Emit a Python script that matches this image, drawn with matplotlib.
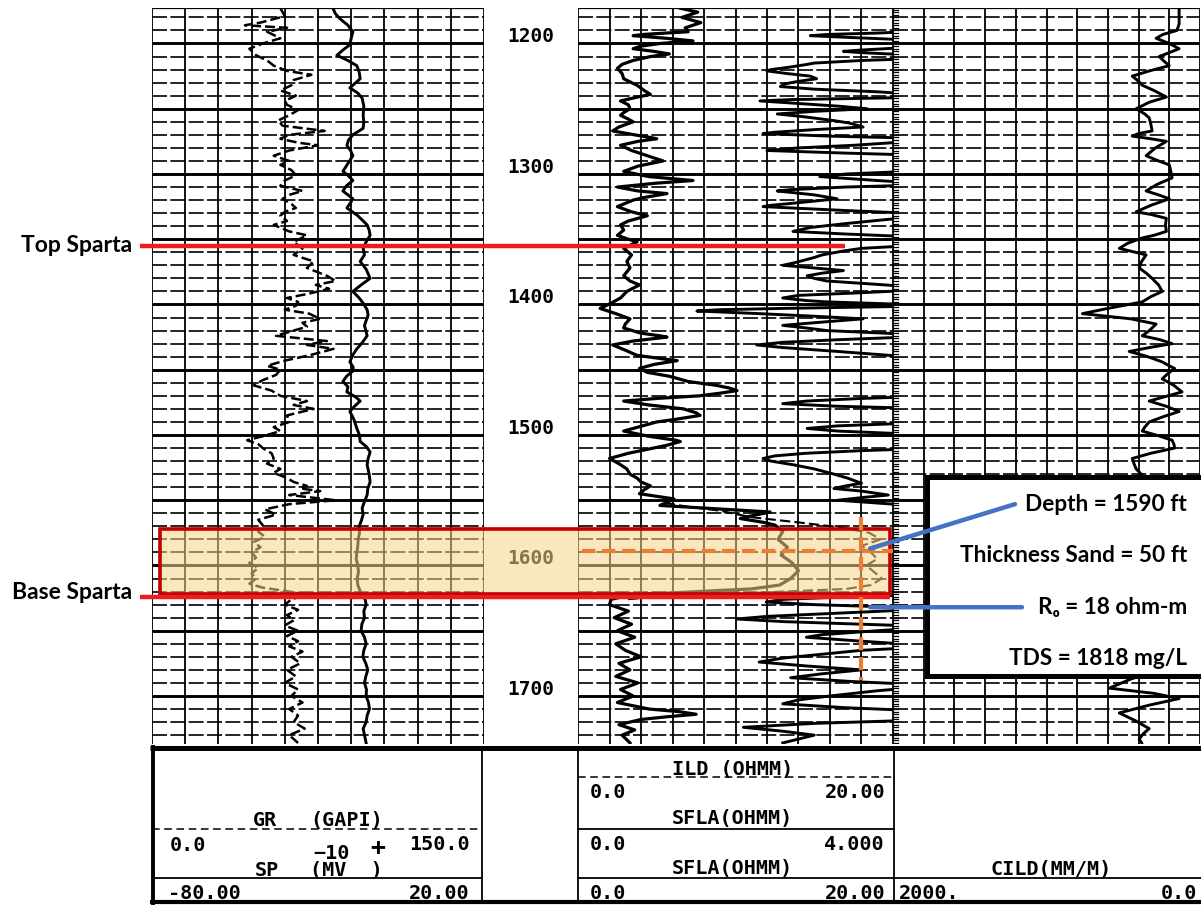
import matplotlib
matplotlib.use("Agg")
import matplotlib.pyplot as plt
from matplotlib.patches import Rectangle, ConnectionPatch

# ---------------- log curves (depth in ft) ----------------
sp_log = [(1173, -25.5), (1177, -24.8), (1181, -23.4), (1186, -21.0), (1191, -19.5), (1196, -20.0),
          (1201, -20.4), (1205, -22.5), (1209, -24.3), (1213, -21.0), (1217, -18.3), (1222, -17.6),
          (1227, -17.3), (1230, -18.6), (1234, -20.4), (1238, -18.0), (1242, -16.7), (1248, -16.2),
          (1255, -16.4), (1260, -16.2), (1265, -16.4), (1270, -19.5), (1274, -20.8), (1278, -21.3),
          (1282, -20.2), (1286, -19.5), (1292, -21.0), (1298, -22.5), (1301, -21.0), (1305, -19.5),
          (1309, -21.4), (1313, -22.5), (1316, -21.0), (1319, -19.5), (1322, -20.2), (1326, -21.3),
          (1332, -18.0), (1339, -15.2), (1343, -14.6), (1347, -14.3), (1352, -15.5), (1357, -16.4),
          (1362, -16.0), (1367, -17.3), (1373, -15.5), (1380, -14.3), (1385, -17.0), (1390, -19.5),
          (1395, -17.6), (1399, -16.4), (1404, -15.2), (1408, -14.9), (1416, -16.0), (1424, -15.2),
          (1429, -16.6), (1434, -18.3), (1439, -19.6), (1444, -20.4), (1448, -19.4), (1451, -19.5),
          (1455, -21.4), (1459, -22.5), (1463, -21.0), (1467, -21.3), (1471, -18.6), (1474, -17.3),
          (1478, -19.0), (1482, -20.4), (1488, -19.2), (1495, -18.3), (1500, -17.5), (1505, -17.3),
          (1509, -15.4), (1513, -14.3), (1518, -14.9), (1523, -15.2), (1530, -14.6), (1536, -14.3),
          (1541, -15.0), (1546, -15.2), (1551, -16.0), (1556, -16.7), (1561, -16.4), (1566, -17.0),
          (1570, -17.6), (1575, -17.5), (1580, -17.9), (1585, -18.0), (1590, -18.3), (1595, -18.5),
          (1600, -18.0), (1605, -17.8), (1610, -18.2), (1615, -18.0), (1619, -17.4), (1622, -16.7),
          (1626, -15.8), (1630, -15.5), (1635, -16.2), (1640, -16.0), (1645, -16.8), (1650, -17.0),
          (1655, -16.0), (1660, -15.5), (1665, -16.2), (1670, -16.5), (1675, -15.6), (1680, -15.0),
          (1685, -15.6), (1690, -16.0), (1695, -15.4), (1700, -15.5), (1705, -14.8), (1710, -14.5),
          (1715, -15.2), (1720, -15.5), (1725, -16.4), (1730, -16.0), (1736, -15.5)]

gr_log = [(1173, 58), (1179, 60), (1184, 49), (1186, 42), (1188, 61), (1191, 52), (1196, 58),
          (1200, 50), (1204, 44), (1209, 47), (1213, 52), (1217, 55), (1221, 61), (1224, 72),
          (1228, 64), (1232, 63), (1236, 58), (1240, 65), (1244, 60), (1247, 61), (1251, 66),
          (1255, 62), (1259, 57), (1263, 59), (1267, 78), (1270, 62), (1273, 58), (1276, 66),
          (1278, 75), (1282, 62), (1286, 55), (1290, 62), (1293, 58), (1297, 63), (1301, 65),
          (1305, 60), (1309, 58), (1313, 68), (1316, 62), (1319, 59), (1323, 63), (1326, 65),
          (1329, 60), (1332, 58), (1336, 61), (1339, 55), (1344, 62), (1347, 70), (1352, 64),
          (1357, 68), (1362, 64), (1367, 73), (1372, 70), (1378, 79), (1382, 83), (1385, 74),
          (1388, 80), (1392, 70), (1395, 61), (1398, 66), (1401, 65), (1404, 60), (1407, 71),
          (1411, 76), (1414, 68), (1417, 70), (1421, 62), (1424, 56), (1428, 79), (1431, 70),
          (1434, 82), (1439, 71), (1443, 60), (1447, 52), (1450, 58), (1454, 56), (1458, 50),
          (1462, 46), (1466, 54), (1470, 58), (1474, 70), (1477, 64), (1480, 73), (1485, 61),
          (1490, 62), (1494, 55), (1497, 58), (1501, 50), (1504, 43), (1507, 48), (1510, 50),
          (1514, 54), (1518, 55), (1522, 52), (1526, 58), (1529, 55), (1533, 61), (1536, 64),
          (1539, 70), (1541, 67), (1543, 76), (1546, 62), (1550, 83), (1553, 62), (1557, 51),
          (1561, 56), (1565, 48), (1569, 50), (1574, 48), (1578, 51), (1582, 46), (1586, 49),
          (1590, 45), (1594, 47), (1598, 44), (1602, 48), (1606, 45), (1610, 47), (1614, 44),
          (1617, 50), (1620, 62), (1622, 70), (1626, 63), (1630, 60), (1634, 66), (1638, 61),
          (1642, 64), (1646, 60), (1650, 66), (1654, 61), (1658, 66), (1662, 62), (1666, 68),
          (1670, 63), (1675, 67), (1680, 61), (1685, 65), (1690, 60), (1695, 66), (1700, 63),
          (1705, 68), (1710, 62), (1715, 66), (1720, 64), (1725, 69), (1730, 62), (1736, 66)]

# SFLA on the 0-20 ohm-m scale
sfla_log = [(1173, 6.5), (1176, 7.6), (1180, 6.6), (1184, 7.8), (1188, 6.8), (1191, 7.0),
            (1193, 4.2), (1194, 3.5), (1196, 5.6), (1198, 7.3), (1200, 5.2), (1202, 4.0),
            (1204, 3.5), (1206, 4.8), (1208, 5.8), (1210, 4.6), (1213, 3.5), (1216, 2.8),
            (1219, 2.5), (1223, 2.8), (1227, 2.9), (1230, 3.4), (1232, 3.75), (1236, 4.2),
            (1239, 4.6), (1241, 3.8), (1244, 2.7), (1247, 3.2), (1250, 3.3), (1253, 2.9),
            (1255, 2.7), (1258, 3.2), (1260, 3.5), (1264, 2.6), (1267, 2.2), (1270, 3.6),
            (1272, 4.6), (1273, 5.0), (1275, 3.8), (1278, 2.7), (1282, 3.4), (1286, 4.4),
            (1290, 5.4), (1294, 3.8), (1298, 2.9), (1302, 4.5), (1304, 6.4), (1305, 7.3),
            (1307, 5.0), (1310, 2.5), (1313, 3.8), (1315, 5.65), (1318, 4.2), (1320, 3.5),
            (1325, 2.5), (1329, 3.4), (1332, 4.4), (1336, 3.2), (1339, 2.7), (1343, 2.9),
            (1347, 2.5), (1350, 3.2), (1352, 3.75), (1357, 2.9), (1362, 3.4), (1367, 3.1),
            (1372, 3.3), (1378, 2.9), (1382, 3.3), (1385, 3.9), (1390, 3.1), (1395, 2.7),
            (1399, 2.1), (1403, 1.4), (1407, 2.4), (1411, 3.3), (1415, 3.0), (1418, 2.9),
            (1422, 4.0), (1424, 5.2), (1425, 5.65), (1428, 3.5), (1431, 2.2), (1435, 3.0),
            (1439, 3.75), (1442, 5.6), (1443, 6.3), (1446, 4.8), (1449, 3.9), (1452, 4.4),
            (1455, 5.8), (1459, 7.0), (1462, 8.8), (1464, 9.6), (1466, 10.1), (1468, 9.0),
            (1470, 7.7), (1472, 5.0), (1474, 2.9), (1477, 4.5), (1480, 6.7), (1483, 7.5),
            (1485, 7.75), (1488, 6.2), (1490, 5.0), (1494, 3.8), (1497, 2.9), (1501, 4.5),
            (1504, 6.2), (1505, 6.5), (1508, 5.6), (1510, 4.8), (1514, 3.2), (1518, 2.0),
            (1522, 2.6), (1526, 3.1), (1530, 3.3), (1533, 3.75), (1536, 4.0), (1539, 4.6),
            (1542, 4.2), (1545, 3.9), (1549, 6.1), (1552, 5.6), (1554, 5.2), (1556, 8.0),
            (1559, 12.2), (1562, 11.0), (1564, 10.3), (1567, 11.8), (1569, 12.5), (1574, 13.0),
            (1580, 12.7), (1586, 13.3), (1592, 12.9), (1598, 13.6), (1604, 14.0), (1610, 13.5),
            (1615, 12.8), (1618, 11.0), (1619, 9.2), (1621, 6.0), (1622, 4.0), (1624, 2.8),
            (1626, 2.1), (1630, 2.0), (1635, 3.2), (1640, 2.3), (1645, 3.4), (1650, 2.5),
            (1655, 3.6), (1660, 2.4), (1665, 3.0), (1670, 4.0), (1675, 2.6), (1680, 3.3),
            (1685, 2.4), (1690, 3.8), (1695, 2.7), (1700, 3.5), (1705, 2.5), (1710, 4.5),
            (1712, 6.4), (1714, 7.5), (1716, 5.6), (1718, 4.0), (1722, 2.6), (1726, 3.6),
            (1730, 2.8), (1736, 3.3)]

# SFLA on the 0-4 ohm-m scale (values above 4 run off the track)
sfla4_log = [(1173, 4.6), (1190, 4.6), (1192, 3.8), (1193, 3.2), (1194, 2.95), (1195, 3.3),
             (1197, 4.1), (1200, 4.6), (1203, 4.2), (1205, 3.6), (1206, 3.37), (1207, 3.6),
             (1209, 4.3), (1211, 4.6), (1213, 3.6), (1215, 3.0), (1216, 2.91), (1218, 2.7),
             (1220, 2.45), (1221, 2.40), (1223, 2.65), (1225, 2.95), (1227, 3.03), (1229, 2.8),
             (1231, 2.62), (1233, 2.57), (1235, 3.0), (1237, 3.8), (1239, 4.3), (1241, 4.6),
             (1243, 2.7), (1244, 2.31), (1246, 2.8), (1248, 3.3), (1250, 3.67), (1252, 3.0),
             (1254, 2.53), (1256, 2.85), (1259, 3.24), (1261, 3.45), (1264, 3.62), (1266, 3.0),
             (1268, 2.5), (1269, 2.35), (1271, 3.2), (1273, 4.6), (1276, 4.0), (1278, 3.5),
             (1280, 2.8), (1282, 2.40), (1284, 3.4), (1286, 4.6), (1297, 4.6), (1300, 3.4),
             (1302, 3.07), (1305, 3.8), (1308, 4.6), (1310, 3.4), (1312, 2.7), (1313, 2.53),
             (1316, 3.0), (1319, 3.29), (1322, 2.8), (1324, 2.45), (1325, 2.35), (1328, 3.4),
             (1331, 4.6), (1335, 3.9), (1338, 3.4), (1341, 2.95), (1344, 2.73), (1346, 3.4),
             (1349, 4.6), (1355, 4.2), (1357, 3.6), (1359, 3.37), (1362, 3.1), (1364, 3.0),
             (1368, 2.75), (1370, 2.6), (1372, 3.0), (1374, 3.37), (1376, 3.1), (1378, 2.91),
             (1380, 3.0), (1382, 3.16), (1385, 3.9), (1388, 4.6), (1391, 3.6), (1393, 2.8),
             (1395, 2.6), (1397, 2.9), (1398, 3.16), (1400, 4.2), (1401, 4.6), (1403, 2.6),
             (1404, 1.8), (1405, 1.51), (1407, 2.3), (1409, 3.0), (1411, 3.62), (1413, 3.2),
             (1415, 2.8), (1416, 2.6), (1418, 2.9), (1420, 3.16), (1422, 3.9), (1424, 4.6),
             (1427, 3.3), (1429, 2.6), (1431, 2.27), (1433, 2.6), (1436, 3.3), (1439, 3.96),
             (1442, 4.6), (1470, 4.6), (1472, 3.6), (1474, 2.9), (1476, 2.6), (1478, 3.3),
             (1480, 4.6), (1491, 4.2), (1493, 3.3), (1495, 2.91), (1497, 3.3), (1499, 4.1),
             (1501, 4.6), (1510, 4.6), (1512, 3.6), (1514, 2.9), (1516, 2.5), (1518, 2.35),
             (1520, 2.45), (1523, 2.75), (1526, 3.0), (1530, 3.25), (1533, 3.42), (1537, 3.6),
             (1539, 3.4), (1541, 3.25), (1543, 3.6), (1546, 3.94), (1548, 3.6), (1550, 3.3),
             (1553, 4.0), (1555, 4.6), (1622, 4.6), (1624, 3.4), (1626, 2.6), (1628, 2.39),
             (1630, 3.0), (1633, 4.6), (1636, 3.5), (1639, 2.4), (1641, 2.02), (1643, 2.6),
             (1645, 3.6), (1647, 4.6), (1650, 3.8), (1653, 3.1), (1655, 2.9), (1658, 3.6),
             (1662, 4.6), (1665, 3.6), (1668, 3.1), (1671, 2.6), (1674, 2.3), (1677, 2.9),
             (1680, 3.6), (1683, 3.1), (1686, 2.7), (1689, 3.5), (1692, 4.6), (1696, 3.8),
             (1700, 3.2), (1703, 2.8), (1706, 2.6), (1709, 3.4), (1712, 4.6), (1718, 4.6),
             (1721, 3.0), (1724, 2.1), (1727, 2.6), (1730, 3.0), (1733, 2.8), (1736, 2.6)]

ild_log = [(1552, 5.5), (1555, 7.0), (1558, 9.0), (1563, 11.0), (1567, 14.0), (1571, 16.8),
           (1575, 18.5), (1580, 19.2), (1585, 18.0), (1590, 18.6), (1595, 19.0), (1600, 18.3),
           (1605, 18.8), (1610, 19.3), (1615, 18.6), (1618, 17.0), (1619, 15.0), (1621, 11.0),
           (1622, 8.0), (1624, 5.0), (1626, 3.0)]

cild_log = [(1173, 136), (1185, 136), (1190, 150), (1193, 240), (1196, 286), (1200, 200),
            (1204, 136), (1207, 200), (1210, 266), (1214, 230), (1217, 200), (1221, 330),
            (1225, 441), (1229, 400), (1232, 376), (1236, 300), (1241, 219), (1245, 330),
            (1250, 416), (1254, 360), (1257, 331), (1262, 320), (1267, 312), (1269, 400),
            (1271, 441), (1273, 320), (1275, 219), (1280, 290), (1286, 351), (1290, 270),
            (1293, 200), (1298, 190), (1303, 182), (1308, 280), (1313, 351), (1316, 270),
            (1319, 200), (1324, 320), (1329, 416), (1331, 320), (1334, 219), (1339, 225),
            (1344, 219), (1347, 300), (1349, 376), (1353, 470), (1357, 526), (1360, 420),
            (1362, 351), (1367, 380), (1372, 396), (1376, 350), (1380, 312), (1385, 270),
            (1390, 246), (1394, 320), (1398, 376), (1403, 600), (1407, 766), (1411, 450),
            (1415, 286), (1420, 330), (1424, 376), (1427, 260), (1430, 182), (1433, 330),
            (1436, 461), (1440, 340), (1444, 246), (1447, 200), (1449, 165), (1453, 210),
            (1457, 246), (1462, 170), (1467, 117), (1471, 240), (1474, 331), (1478, 220),
            (1482, 136), (1486, 240), (1490, 331), (1494, 360), (1497, 376), (1501, 260),
            (1504, 182), (1507, 170), (1510, 165), (1514, 320), (1518, 441), (1522, 430),
            (1526, 416), (1540, 300), (1560, 250), (1575, 60), (1590, 55), (1610, 58),
            (1625, 300), (1640, 350), (1660, 300), (1675, 250), (1680, 266), (1687, 450),
            (1694, 591), (1698, 300), (1702, 136), (1707, 330), (1713, 526), (1719, 420),
            (1725, 331), (1729, 370), (1733, 396), (1736, 380)]

depth_labels = [1200, 1300, 1400, 1500, 1600, 1700]

top_sparta = 1355
base_sparta = 1624
sand_top, sand_base = 1572, 1622
pick_depth = 1589
ro_ohmm = 18

info_lines = ["Depth = 1590 ft", "Thickness Sand = 50 ft", "R\u2092 = 18 ohm-m", "TDS = 1818 mg/L"]

# ---------------- layout helpers ----------------
W, H = 1201, 905
D_TOP, D_BOT = 1172.8, 1736.8
LOG_Y0, LOG_Y1 = 8, 744


def rect(x0, x1, y0, y1):
    return [x0 / W, 1 - y1 / H, (x1 - x0) / W, (y1 - y0) / H]


fig = plt.figure(figsize=(W / 100, H / 100), dpi=100)
fig.patch.set_facecolor("white")


def log_axes(x0, x1, xlim):
    ax = fig.add_axes(rect(x0, x1, LOG_Y0, LOG_Y1))
    ax.set_xlim(*xlim)
    ax.set_ylim(D_BOT, D_TOP)
    ax.set_axis_off()
    return ax


def draw_grid(ax, xlo, xhi):
    for i in range(11):
        ax.axvline(xlo + (xhi - xlo) * i / 10, color="black", lw=1.3, zorder=1)
    for d in range(1180, 1737, 10):
        if d % 50 == 0:
            ax.axhline(d, color="black", lw=2.1, zorder=1)
        else:
            ax.axhline(d, color="black", lw=1.2, ls=(0, (9, 2)), zorder=1)
    ax.axhline(D_TOP, color="black", lw=1.6, zorder=1)


def unzip(pairs):
    return [p[0] for p in pairs], [p[1] for p in pairs]


# Track 1: GR / SP
ax1 = log_axes(152, 484, (0, 150))
draw_grid(ax1, 0, 150)
gd, gv = unzip(gr_log)
ax1.plot(gv, gd, color="black", lw=1.8, ls=(0, (4, 1.6)), zorder=3)
ax1s = ax1.twiny()
ax1s.set_xlim(-80, 20)
ax1s.set_ylim(D_BOT, D_TOP)
ax1s.set_axis_off()
sd, sv = unzip(sp_log)
ax1s.plot(sv, sd, color="black", lw=2.1, zorder=3, solid_joinstyle="round")

# Depth column
axd = log_axes(484, 578, (0, 1))
for d in depth_labels:
    axd.text(0.5, d - 5, str(d), ha="center", va="center", fontsize=14,
             family="DejaVu Sans Mono", fontweight="bold", color="black")

# Track 2: resistivity
ax2 = log_axes(578, 893, (0, 20))
draw_grid(ax2, 0, 20)
fd, fv = unzip(sfla_log)
ax2.plot(fv, fd, color="black", lw=2.3, zorder=3, solid_joinstyle="round")
idp, iv = unzip(ild_log)
ax2.plot(iv, idp, color="black", lw=1.5, ls=(0, (5, 2)), zorder=3)
ax2s = ax2.twiny()
ax2s.set_xlim(0, 4)
ax2s.set_ylim(D_BOT, D_TOP)
ax2s.set_axis_off()
f4d, f4v = unzip(sfla4_log)
ax2s.plot(f4v, f4d, color="black", lw=2.1, zorder=3, solid_joinstyle="round")

# Track 3: conductivity
ax3 = log_axes(893, 1200, (2000, 0))
draw_grid(ax3, 2000, 0)
cd, cv = unzip(cild_log)
ax3.plot(cv, cd, color="black", lw=2.1, zorder=3, solid_joinstyle="round")
for d in range(1174, 1737, 2):
    ax3.plot([2000, 1965], [d, d], color="black", lw=0.9, zorder=2)

# ---------------- annotation layer ----------------
ov = fig.add_axes(rect(0, W, LOG_Y0, LOG_Y1), zorder=5)
ov.set_xlim(0, W)
ov.set_ylim(D_BOT, D_TOP)
ov.set_axis_off()

# sand interval
ov.add_patch(Rectangle((160, sand_top), 730, sand_base - sand_top,
                       facecolor="#f7d48a", alpha=0.55, edgecolor="none", zorder=2))
ov.add_patch(Rectangle((160, sand_top), 730, sand_base - sand_top,
                       facecolor="none", edgecolor="#c00000", lw=2.6, zorder=3))

# formation tops
ov.plot([140, 845], [top_sparta, top_sparta], color="#ee1c1c", lw=3.2, zorder=4,
        solid_capstyle="butt")
ov.plot([140, 890], [base_sparta, base_sparta], color="#ee1c1c", lw=3.2, zorder=4,
        solid_capstyle="butt")
label_font = dict(family=["Lato", "DejaVu Sans"], fontweight="bold", fontsize=16.5, color="black")
ov.text(132, top_sparta, "Top Sparta", ha="right", va="center", **label_font)
ov.text(132, base_sparta - 3.5, "Base Sparta", ha="right", va="center", **label_font)

# picks on the resistivity track
orange = "#ed7d31"
ov.plot([0.25, 20], [pick_depth, pick_depth], transform=ax2.transData, color=orange,
        lw=3.0, ls=(0, (3.2, 1.6)), zorder=5, clip_on=False)
ov.plot([ro_ohmm, ro_ohmm], [1563, 1688], transform=ax2.transData, color=orange,
        lw=3.0, ls=(0, (3.2, 1.6)), zorder=5, clip_on=False)

# info box
ov.add_patch(Rectangle((927, 1532.5), 300, 152.5, facecolor="white", edgecolor="black",
                       lw=3.6, zorder=6, clip_on=True))
info_depths = [1553.5, 1592.5, 1632.5, 1671]
for txt, d in zip(info_lines, info_depths):
    ov.text(1187, d, txt, ha="right", va="center", zorder=7,
            family=["Lato", "DejaVu Sans"], fontweight="bold", fontsize=16.3, color="black")

blue = "#4472c4"
for (vx, vd), (bx, bd) in [((18.55, 1587), (1015, 1553)), ((18.55, 1632), (1022, 1632))]:
    con = ConnectionPatch(xyA=(vx, vd), coordsA=ax2.transData, xyB=(bx, bd),
                          coordsB=ov.transData, color=blue, lw=3.2, zorder=7)
    ov.add_artist(con)

# ---------------- header ----------------
hd = fig.add_axes(rect(0, W, 745, 905), zorder=6)
hd.set_xlim(0, W)
hd.set_ylim(905, 745)
hd.set_axis_off()

hd.plot([150, W], [747.5, 747.5], color="black", lw=3.6, solid_capstyle="butt")
hd.plot([150, W], [902, 902], color="black", lw=3.0, solid_capstyle="butt")
hd.plot([153, 153], [746, 903], color="black", lw=2.8)
for x in (482, 578, 894):
    hd.plot([x, x], [748, 902], color="black", lw=1.3)
hd.plot([152, 482], [829, 829], color="black", lw=1.1, ls=(0, (5, 3)))
hd.plot([152, 482], [878, 878], color="black", lw=1.3)
hd.plot([578, 894], [777, 777], color="black", lw=1.1, ls=(0, (5, 3)))
hd.plot([578, 894], [829, 829], color="black", lw=1.3)
hd.plot([578, W], [878, 878], color="black", lw=1.3)

mono = dict(family="DejaVu Sans Mono", fontweight="bold", fontsize=14.5, color="black")
hd.text(253, 820, "GR", ha="left", va="center", **mono)
hd.text(310, 820, "(GAPI)", ha="left", va="center", **mono)
hd.text(170, 845, "0.0", ha="left", va="center", **mono)
hd.text(470, 844, "150.0", ha="right", va="center", **mono)
hd.text(313, 853, "\u221210", ha="left", va="center", **mono)
hd.text(370, 848, "+", ha="left", va="center", family="DejaVu Sans Mono",
        fontweight="bold", fontsize=18, color="black")
hd.text(255, 870, "SP", ha="left", va="center", **mono)
hd.text(310, 870, "(MV  )", ha="left", va="center", **mono)
hd.text(168, 893, "-80.00", ha="left", va="center", **mono)
hd.text(470, 893, "20.00", ha="right", va="center", **mono)

hd.text(672, 769, "ILD (OHMM)", ha="left", va="center", **mono)
hd.text(590, 792, "0.0", ha="left", va="center", **mono)
hd.text(885, 792, "20.00", ha="right", va="center", **mono)
hd.text(672, 818, "SFLA(OHMM)", ha="left", va="center", **mono)
hd.text(590, 844, "0.0", ha="left", va="center", **mono)
hd.text(885, 844, "4.000", ha="right", va="center", **mono)
hd.text(672, 868, "SFLA(OHMM)", ha="left", va="center", **mono)
hd.text(590, 893, "0.0", ha="left", va="center", **mono)
hd.text(885, 893, "20.00", ha="right", va="center", **mono)

hd.text(990, 869, "CILD(MM/M)", ha="left", va="center", **mono)
hd.text(899, 893, "2000.", ha="left", va="center", **mono)
hd.text(1197, 893, "0.0", ha="right", va="center", **mono)

fig.savefig("out.png", dpi=100, facecolor="white")
